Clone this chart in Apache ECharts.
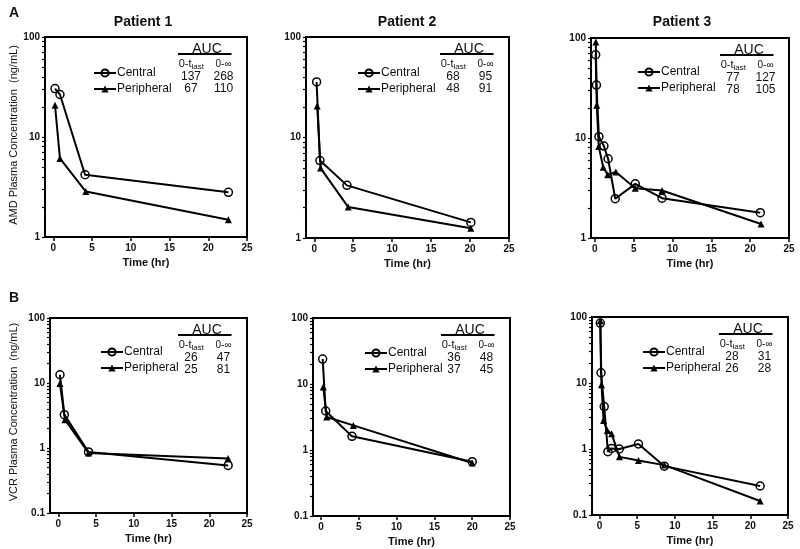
<!DOCTYPE html>
<html>
<head>
<meta charset="utf-8">
<script src="https://cdn.jsdelivr.net/npm/echarts@6/dist/echarts.min.js"></script>
<style>html,body{margin:0;padding:0;background:#fff;}#chart{width:800px;height:549px;}</style>
</head>
<body>
<div id="chart"></div>
<script>
// ---------- DATA ----------
const panelTitles = ['Patient 1', 'Patient 2', 'Patient 3'];
const rowLabels = ['A', 'B'];
const yAxisNames = ['AMD Plasma Concentration  (ng/mL)', 'VCR Plasma Concentration  (ng/mL)'];
const xAxisName = 'Time (hr)';
const seriesNames = ['Central', 'Peripheral'];
const xTicks = [0, 5, 10, 15, 20, 25];
const yMajorAMD = [1, 10, 100];
const yMajorVCR = [0.1, 1, 10, 100];
const yMinorAMD = [2, 3, 4, 5, 6, 7, 8, 9, 20, 30, 40, 50, 60, 70, 80, 90];
const yMinorVCR = [0.2, 0.3, 0.4, 0.5, 0.6, 0.7, 0.8, 0.9, 2, 3, 4, 5, 6, 7, 8, 9, 20, 30, 40, 50, 60, 70, 80, 90];

// AMD
const amdP1CentralTime = [0.22, 0.86, 4.1, 22.6];
const amdP1Central = [30.5, 26.6, 4.2, 2.8];
const amdP1PeriphTime = [0.22, 0.86, 4.2, 22.6];
const amdP1Peripheral = [20.8, 6.1, 2.85, 1.49];

const amdP2CentralTime = [0.3, 0.73, 4.2, 20.1];
const amdP2Central = [35.7, 5.9, 3.34, 1.43];
const amdP2PeriphTime = [0.38, 0.81, 4.36, 20.1];
const amdP2Peripheral = [20.6, 4.96, 2.03, 1.25];

const amdP3CentralTime = [0.1, 0.2, 0.52, 1.16, 1.7, 2.62, 5.2, 8.65, 21.3];
const amdP3Central = [68, 33.8, 10.3, 8.3, 6.2, 2.47, 3.48, 2.5, 1.79];
const amdP3PeriphTime = [0.12, 0.24, 0.5, 1.07, 1.65, 2.7, 5.2, 8.65, 21.4];
const amdP3Peripheral = [91, 21.3, 8.2, 5.1, 4.28, 4.58, 3.15, 2.99, 1.38];

// VCR
const vcrP1CentralTime = [0.22, 0.8, 4.0, 22.5];
const vcrP1Central = [13.4, 3.26, 0.87, 0.54];
const vcrP1PeriphTime = [0.22, 0.88, 4.0, 22.5];
const vcrP1Peripheral = [9.8, 2.73, 0.84, 0.69];

const vcrP2CentralTime = [0.22, 0.62, 4.1, 20.0];
const vcrP2Central = [23.9, 3.9, 1.61, 0.665];
const vcrP2PeriphTime = [0.3, 0.75, 4.27, 20.0];
const vcrP2Peripheral = [9.0, 3.16, 2.36, 0.635];

const vcrP3CentralTime = [0.1, 0.2, 0.62, 1.11, 1.6, 2.62, 5.16, 8.6, 21.3];
const vcrP3Central = [81, 14.3, 4.4, 0.91, 1.02, 1.0, 1.19, 0.55, 0.275];
const vcrP3PeriphTime = [0.1, 0.26, 0.53, 1.03, 1.6, 2.65, 5.16, 8.6, 21.3];
const vcrP3Peripheral = [88, 9.4, 2.7, 1.9, 1.7, 0.76, 0.67, 0.57, 0.163];

// AUC tables
const aucHeader = 'AUC';
const aucCol1 = ['0-t', 'last'];
const aucCol2 = '0-\u221E';
const amdAucTlastCentral = [137, 68, 77];
const amdAucInfCentral = [268, 95, 127];
const amdAucTlastPeriph = [67, 48, 78];
const amdAucInfPeriph = [110, 91, 105];
const vcrAucTlastCentral = [26, 36, 28];
const vcrAucInfCentral = [47, 48, 31];
const vcrAucTlastPeriph = [25, 37, 26];
const vcrAucInfPeriph = [81, 45, 28];

// ---------- LAYOUT ----------
const FONT = '"Liberation Sans", Arial, Helvetica, sans-serif';
const layouts = [
  {left: 45, top: 37, width: 202, height: 200, xmin: -1.07, lgLeft: 93, lgTop: 67},
  {left: 306, top: 37, width: 203, height: 201, xmin: -1.06, lgLeft: 357, lgTop: 67},
  {left: 591, top: 38, width: 198, height: 200, xmin: -0.5, lgLeft: 637, lgTop: 66},
  {left: 50, top: 318, width: 197, height: 195, xmin: -1.1, lgLeft: 100, lgTop: 346},
  {left: 313, top: 318, width: 197, height: 198, xmin: -1.06, lgLeft: 364, lgTop: 347},
  {left: 592, top: 317, width: 196, height: 198, xmin: -1.0, lgLeft: 642, lgTop: 346}
];

const panelData = [
  [amdP1CentralTime, amdP1Central, amdP1PeriphTime, amdP1Peripheral],
  [amdP2CentralTime, amdP2Central, amdP2PeriphTime, amdP2Peripheral],
  [amdP3CentralTime, amdP3Central, amdP3PeriphTime, amdP3Peripheral],
  [vcrP1CentralTime, vcrP1Central, vcrP1PeriphTime, vcrP1Peripheral],
  [vcrP2CentralTime, vcrP2Central, vcrP2PeriphTime, vcrP2Peripheral],
  [vcrP3CentralTime, vcrP3Central, vcrP3PeriphTime, vcrP3Peripheral]
];
const aucData = [];
for (let i = 0; i < 3; i++) aucData.push([amdAucTlastCentral[i], amdAucInfCentral[i], amdAucTlastPeriph[i], amdAucInfPeriph[i]]);
for (let i = 0; i < 3; i++) aucData.push([vcrAucTlastCentral[i], vcrAucInfCentral[i], vcrAucTlastPeriph[i], vcrAucInfPeriph[i]]);

const zip = (xs, ys) => xs.map((x, i) => [x, ys[i]]);

const grid = [], xAxis = [], yAxis = [], series = [], legend = [], graphic = [];

layouts.forEach((L, p) => {
  const isVCR = p >= 3;
  grid.push({left: L.left, top: L.top, width: L.width, height: L.height, show: true,
    borderColor: '#000', borderWidth: 2, backgroundColor: 'transparent', containLabel: false});
  xAxis.push({
    type: 'value', gridIndex: p, min: L.xmin, max: 25, position: 'bottom',
    name: xAxisName, nameLocation: 'middle', nameGap: 20,
    nameTextStyle: {fontFamily: FONT, fontSize: 11, fontWeight: 'bold', color: '#111'},
    axisLine: {show: true, onZero: false, lineStyle: {color: '#000', width: 2}},
    axisTick: {show: true, length: 4, customValues: xTicks, lineStyle: {color: '#000', width: 1.5}},
    axisLabel: {customValues: xTicks, margin: 6, fontFamily: FONT, fontSize: 10, fontWeight: 'bold', color: '#111'},
    splitLine: {show: false}
  });
  const yMin = isVCR ? 0.1 : 1;
  const majors = isVCR ? yMajorVCR : yMajorAMD;
  const minors = isVCR ? yMinorVCR : yMinorAMD;
  yAxis.push({
    type: 'log', logBase: 10, gridIndex: p, min: yMin, max: 100, position: 'left',
    axisLine: {show: true, onZero: false, lineStyle: {color: '#000', width: 2}},
    axisTick: {show: true, length: 3, customValues: majors.concat(minors), lineStyle: {color: '#000', width: 1.2}},
    axisLabel: {customValues: majors, margin: 5, fontFamily: FONT, fontSize: 10, fontWeight: 'bold', color: '#111',
      formatter: v => String(v)},
    splitLine: {show: false}
  });
  const d = panelData[p];
  series.push({
    name: seriesNames[0], type: 'line', xAxisIndex: p, yAxisIndex: p,
    data: zip(d[0], d[1]), symbol: 'circle', symbolSize: 8, z: 3,
    lineStyle: {color: '#000', width: 2},
    itemStyle: {color: 'rgba(255,255,255,0)', borderColor: '#000', borderWidth: 1.5},
    emphasis: {disabled: true}, animation: false
  });
  series.push({
    name: seriesNames[1], type: 'line', xAxisIndex: p, yAxisIndex: p,
    data: zip(d[2], d[3]), symbol: 'triangle', symbolSize: 7, z: 2,
    lineStyle: {color: '#000', width: 2},
    itemStyle: {color: '#000', borderColor: '#000', borderWidth: 0},
    emphasis: {disabled: true}, animation: false
  });
  legend.push({
    left: L.lgLeft, top: L.lgTop, orient: 'vertical', itemWidth: 22, itemHeight: 9, itemGap: 4, padding: 0,
    data: seriesNames, selectedMode: false,
    textStyle: {fontFamily: FONT, fontSize: 12, color: '#111', padding: [0, 0, 0, -4]}
  });

  // AUC table
  const R = L.left + L.width, T = L.top;
  const c1 = R - 56, c2 = R - 23.5;
  const a = aucData[p];
  graphic.push({type: 'text', style: {text: aucHeader, x: R - 40, y: T + 12, align: 'center', verticalAlign: 'middle',
    font: '14px ' + FONT, fill: '#111'}});
  graphic.push({type: 'line', shape: {x1: R - 69, y1: T + 17, x2: R - 15.5, y2: T + 17}, style: {stroke: '#000', lineWidth: 2}});
  graphic.push({type: 'text', style: {text: aucCol1[0], x: c1 + 0.5, y: T + 27, align: 'right', verticalAlign: 'middle',
    font: '11px ' + FONT, fill: '#111'}});
  graphic.push({type: 'text', style: {text: aucCol1[1], x: c1 + 0.5, y: T + 29.5, align: 'left', verticalAlign: 'middle',
    font: '8px ' + FONT, fill: '#111'}});
  graphic.push({type: 'text', style: {text: aucCol2, x: c2, y: T + 27, align: 'center', verticalAlign: 'middle',
    font: '10px ' + FONT, fill: '#111'}});
  [[a[0], c1, T + 39.5], [a[1], c2, T + 39.5], [a[2], c1, T + 52], [a[3], c2, T + 52]].forEach(v => {
    graphic.push({type: 'text', style: {text: String(v[0]), x: v[1], y: v[2], align: 'center', verticalAlign: 'middle',
      font: '12px ' + FONT, fill: '#111'}});
  });
});

// titles & row labels & y names
const titleX = [143, 407, 682];
panelTitles.forEach((t, i) => graphic.push({type: 'text', style: {text: t, x: titleX[i], y: 22, align: 'center', verticalAlign: 'middle',
  font: 'bold 14px ' + FONT, fill: '#111'}}));
graphic.push({type: 'text', style: {text: rowLabels[0], x: 14, y: 13.5, align: 'center', verticalAlign: 'middle', font: 'bold 14px ' + FONT, fill: '#111'}});
graphic.push({type: 'text', style: {text: rowLabels[1], x: 14, y: 298, align: 'center', verticalAlign: 'middle', font: 'bold 14px ' + FONT, fill: '#111'}});
graphic.push({type: 'text', x: 14, y: 135, rotation: Math.PI / 2, style: {text: yAxisNames[0], x: 0, y: 0, align: 'center', verticalAlign: 'middle',
  font: '11px ' + FONT, fill: '#111'}});
graphic.push({type: 'text', x: 14, y: 412, rotation: Math.PI / 2, style: {text: yAxisNames[1], x: 0, y: 0, align: 'center', verticalAlign: 'middle',
  font: '11px ' + FONT, fill: '#111'}});

const chart = echarts.init(document.getElementById('chart'), null, {renderer: 'canvas'});
chart.setOption({
  animation: false,
  backgroundColor: '#fff',
  textStyle: {fontFamily: FONT},
  grid, xAxis, yAxis, series, legend, graphic,
  tooltip: {show: false}
});
</script>
</body>
</html>
